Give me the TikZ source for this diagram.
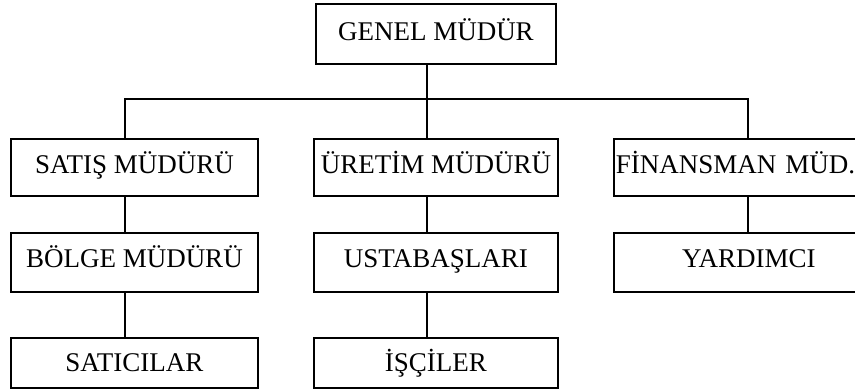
\documentclass[tikz,border=0pt]{standalone}
\usepackage{fontspec}
\setmainfont{Liberation Serif}
\begin{document}
\begin{tikzpicture}[x=1pt,y=-1pt,
  box/.style={draw, line width=1.8pt, inner xsep=2pt, inner ysep=0pt, anchor=north west,
    font=\fontsize{27}{30}\selectfont},
  rowa/.style={text height=37pt, text depth=23pt},
  rowb/.style={text height=35pt, text depth=22pt},
  rowc/.style={text height=35pt, text depth=24pt},
  rowd/.style={text height=34pt, text depth=16pt},
  conn/.style={line width=1.8pt}]
\useasboundingbox (0,0) rectangle (855,390);
\node[box,rowa,minimum width=240pt] (gm) at (315,3) {GENEL MÜDÜR};
\node[box,rowb,minimum width=247pt] (satis) at (10,138) {SATIŞ MÜDÜRÜ};
\node[box,rowb,minimum width=244pt] (uretim) at (313,138) {ÜRETİM MÜDÜRÜ};
\node[box,rowb,text width=266pt,align=left] (fin) at (613,138) {FİNANSMAN MÜD.};
\node[box,rowc,minimum width=247pt] (bolge) at (10,232) {BÖLGE MÜDÜRÜ};
\node[box,rowc,minimum width=244pt] (usta) at (313,232) {USTABAŞLARI};
\node[box,rowc,minimum width=270pt] (yard) at (613,232) {YARDIMCI};
\node[box,rowd,minimum width=247pt] (satici) at (10,337) {SATICILAR};
\node[box,rowd,minimum width=244pt] (isci) at (313,337) {İŞÇİLER};
\coordinate (cl) at (125,99);
\coordinate (cm) at (427,99);
\coordinate (cr) at (748,99);
\draw[conn] (gm.south -| cm) -- (cm);
\draw[conn] (satis.north -| cl) -- (cl) -- (cr) -- (fin.north -| cr);
\draw[conn] (cm) -- (uretim.north -| cm);
\draw[conn] (satis.south -| cl) -- (bolge.north -| cl);
\draw[conn] (bolge.south -| cl) -- (satici.north -| cl);
\draw[conn] (uretim.south -| cm) -- (usta.north -| cm);
\draw[conn] (usta.south -| cm) -- (isci.north -| cm);
\draw[conn] (fin.south -| cr) -- (yard.north -| cr);
\end{tikzpicture}
\end{document}
